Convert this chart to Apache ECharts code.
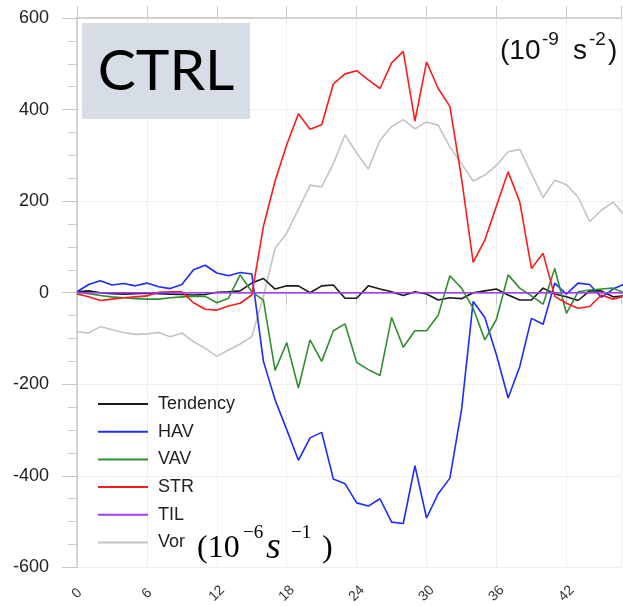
<!DOCTYPE html>
<html>
<head>
<meta charset="utf-8">
<script src="https://cdn.jsdelivr.net/npm/echarts@6/dist/echarts.min.js"></script>
<style>
html,body{margin:0;padding:0;background:#fff;}
#c{width:623px;height:606px;}
</style>
</head>
<body>
<div id="c"></div>
<script>
const hours = [0,1,2,3,4,5,6,7,8,9,10,11,12,13,14,15,16,17,18,19,20,21,22,23,24,25,26,27,28,29,30,31,32,33,34,35,36,37,38,39,40,41,42,43,44,45,46,47];
const tendency = [2,4,0,-2,-3,-2,-1,-2,-3,-4,-5,-4,1,2,4,21,31,8,15,15,0,15,17,-12,-12,15,8,2,-6,2,-3,-16,-11,-13,0,4,8,-5,-16,-16,10,-3,-9,-17,4,4,-9,-7];
const hav = [2,18,26,17,20,15,21,13,9,18,50,60,43,37,44,41,-150,-234,-299,-366,-317,-305,-407,-417,-459,-466,-450,-501,-504,-378,-492,-439,-405,-256,-19,-54,-136,-230,-161,-56,-69,21,-3,21,18,-10,8,19];
const vav = [1,-2,-6,-9,-11,-13,-14,-14,-11,-9,-8,-8,-22,-12,39,2,-16,-170,-109,-208,-103,-150,-83,-68,-152,-168,-181,-54,-119,-83,-83,-49,37,10,-34,-103,-58,39,10,-7,-25,53,-45,2,6,8,10,-1];
const str = [-3,-9,-17,-14,-11,-9,-7,1,2,2,-22,-36,-38,-29,-23,-5,145,244,323,391,357,367,456,478,485,465,446,502,527,375,504,446,407,250,66,115,190,264,198,53,86,-8,-23,-34,-30,-5,-14,-7];
const til = [0,0,0,0,0,0,0,0,0,0,0,0,0,0,0,0,0,0,0,0,0,0,0,0,0,0,0,0,0,0,0,0,0,0,0,0,0,0,0,0,0,0,0,0,0,0,0,0];
const vor = [-85,-88,-74,-81,-87,-91,-90,-87,-96,-88,-107,-121,-139,-125,-112,-96,-8,97,130,182,235,231,282,345,305,270,333,363,378,358,373,366,318,282,244,257,278,308,313,260,208,246,236,209,155,180,198,169];
const seriesNames = ['Tendency','HAV','VAV','STR','TIL','Vor'];
const seriesColors = ['#1a1a1a','#1a2cff','#2f8f2f','#ff1a1a','#a23cff','#c4c4c4'];
const seriesValues = [tendency, hav, vav, str, til, vor];
const yTicks = [-600,-400,-200,0,200,400,600];
const xTickStep = 6;

const chart = echarts.init(document.getElementById('c'));
const axisGray = '#c8c8c8';
const gridGray = '#efefef';
const drawOrder = [5,0,1,2,3,4];
const series = drawOrder.map(i => ({
  name: seriesNames[i],
  type: 'line',
  xAxisIndex: 0,
  data: hours.map((h, k) => [h, seriesValues[i][k]]),
  showSymbol: false,
  symbol: 'none',
  clip: true,
  lineStyle: {width: 1.6, color: seriesColors[i]},
  itemStyle: {color: seriesColors[i]},
  z: 2 + drawOrder.indexOf(i)
}));

chart.setOption({
  animation: false,
  backgroundColor: '#ffffff',
  grid: {left: 77, right: 0, top: 18, bottom: 38, containLabel: false},
  xAxis: [{
    type: 'value', position: 'bottom', min: 0, max: 46.675, interval: xTickStep,
    axisLine: {show: true, lineStyle: {color: axisGray, width: 1.5}},
    axisTick: {show: true, length: 12, lineStyle: {color: axisGray}},
    splitLine: {show: true, lineStyle: {color: gridGray, width: 1}},
    axisLabel: {
      rotate: 45, align: 'center', verticalAlign: 'middle', margin: 26,
      fontSize: 14, color: '#333', fontFamily: 'Liberation Sans',
      padding: [0, 0, 0, 0],
      formatter: v => (v % xTickStep === 0 ? String(v) : '')
    }
  }, {
    type: 'value', position: 'top', min: 0, max: 46.675, interval: xTickStep,
    axisLine: {show: true, lineStyle: {color: axisGray, width: 1.5}},
    axisTick: {show: true, length: 12, lineStyle: {color: axisGray}},
    splitLine: {show: false},
    axisLabel: {show: false}
  }],
  yAxis: {
    type: 'value', min: yTicks[0], max: yTicks[yTicks.length-1], interval: 200,
    axisLine: {show: true, lineStyle: {color: axisGray, width: 1.5}},
    axisTick: {show: true, length: 15, lineStyle: {color: axisGray}},
    minorTick: {show: true, splitNumber: 4, length: 9, lineStyle: {color: axisGray}},
    splitLine: {show: true, lineStyle: {color: gridGray, width: 1}},
    axisLabel: {fontSize: 18, color: '#222', fontFamily: 'Liberation Sans', margin: 28}
  },
  legend: {
    data: seriesNames,
    orient: 'vertical', left: 93, top: 390,
    icon: 'rect', itemWidth: 50, itemHeight: 2, itemGap: 9.7,
    textStyle: {fontSize: 18, color: '#222', fontFamily: 'Liberation Sans', lineHeight: 18, padding: [0,0,0,5]},
    selectedMode: false
  },
  graphic: [
    {type: 'rect', left: 82, top: 23, shape: {width: 168, height: 96}, style: {fill: '#d6dde6'}, z: 10},
    {type: 'text', x: 166, y: 72, style: {text: 'CTRL', fontSize: 57, fontFamily: 'Lato', fill: '#000', align: 'center', verticalAlign: 'middle'}, z: 11},
    {type: 'text', x: 500, y: 51, style: {text: '(10', fontSize: 28, fontFamily: 'Liberation Sans', fill: '#111', align: 'left', verticalAlign: 'middle'}, z: 11},
    {type: 'text', x: 542, y: 40, style: {text: '-9', fontSize: 19, fontFamily: 'Liberation Sans', fill: '#111', align: 'left', verticalAlign: 'middle'}, z: 11},
    {type: 'text', x: 573, y: 51, style: {text: 's', fontSize: 28, fontFamily: 'Liberation Sans', fill: '#111', align: 'left', verticalAlign: 'middle'}, z: 11},
    {type: 'text', x: 589, y: 40, style: {text: '-2', fontSize: 19, fontFamily: 'Liberation Sans', fill: '#111', align: 'left', verticalAlign: 'middle'}, z: 11},
    {type: 'text', x: 608, y: 51, style: {text: ')', fontSize: 28, fontFamily: 'Liberation Sans', fill: '#111', align: 'left', verticalAlign: 'middle'}, z: 11},
    {type: 'text', x: 197, y: 549, style: {text: '(10', fontSize: 32, fontFamily: 'Liberation Serif', fill: '#000', align: 'left', verticalAlign: 'middle'}, z: 11},
    {type: 'text', x: 243, y: 533, style: {text: '\u22126', fontSize: 19, fontFamily: 'Liberation Serif', fill: '#000', align: 'left', verticalAlign: 'middle'}, z: 11},
    {type: 'text', x: 266, y: 548, style: {text: 's', fontSize: 38, fontFamily: 'Liberation Serif', fontStyle: 'italic', fill: '#000', align: 'left', verticalAlign: 'middle'}, z: 11},
    {type: 'text', x: 291, y: 533, style: {text: '\u22121', fontSize: 19, fontFamily: 'Liberation Serif', fill: '#000', align: 'left', verticalAlign: 'middle'}, z: 11},
    {type: 'text', x: 322, y: 549, style: {text: ')', fontSize: 32, fontFamily: 'Liberation Serif', fill: '#000', align: 'left', verticalAlign: 'middle'}, z: 11}
  ],
  series: series
});
</script>
</body>
</html>
